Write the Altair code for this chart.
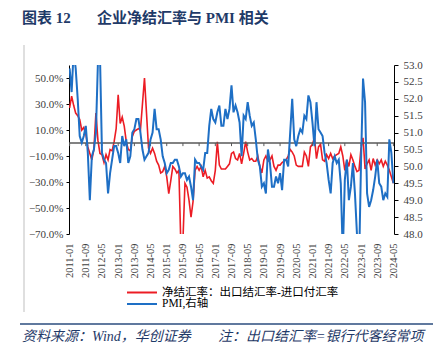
import altair as alt
import pandas as pd

months = [f"{y}-{m:02d}" for y in range(2011, 2025) for m in range(1, 13)][:161]
tick_months = months[::8]

net_rate = [
    27, 36, 29, 23, 21, 18, 10, 12, 7, -3, -8, -13,
    -5, 23, 2, -8, -9, -15, -9, -13, -5, -6, 1, 11,
    37, 15, 20, 13, 1, -5, -6, 5, 9, 10, 11, 10,
    30, 50, 23, -4, -8, -4, -8, -14, -17, -23, -22, -18,
    -26, -39, -29, -18, -20, -23, -21, -80, -75, -31, -34, -44,
    -57, -45, -21, -18, -21, -18, -26, -21, -27, -26, -29, -31,
    -21, 1, -17, -20, -20, -20, -18, -16, -8, -7, -12, -13,
    -8, -16, -8, 1, -7, -13, -12, -14, -14, -10, -18, -23,
    -13, -10, -14, -13, -10, -18, -21, -17, -17, -15, -14, -13,
    -10, -5, -7, -10, -17, -18, -18, -18, -7, -10, -18, -3,
    -1, 4, -12, -3, -1, -13, -14, -9, -12, -8, -12, -10,
    -9, -8, -3, -10, -21, -13, -18, -9, -13, -18, -22, -21,
    -4, 4, -20, -16, -13, -21, -12, -17, -13, -16, -13, -18,
    -14, -17, -21, -26, -31,
]

pmi = [
    52.9, 52.2, 53.4, 52.9, 52.0, 50.9, 50.7, 50.9, 51.2, 50.4, 49.0, 50.3,
    50.5, 51.0, 53.1, 53.3, 50.4, 50.2, 50.1, 49.2, 49.8, 50.2, 50.6, 50.6,
    50.4, 50.1, 50.9, 50.6, 50.8, 50.1, 50.3, 51.0, 51.1, 51.4, 51.4, 51.0,
    50.5, 50.2, 50.3, 50.4, 50.8, 51.0, 51.7, 51.1, 51.1, 50.8, 50.3, 50.1,
    49.8, 49.9, 50.1, 50.1, 50.2, 50.2, 50.0, 49.7, 49.8, 49.8, 49.6, 49.7,
    49.4, 49.0, 50.2, 50.1, 50.1, 50.0, 49.9, 50.4, 50.4, 51.2, 51.7, 51.4,
    51.3, 51.6, 51.8, 51.2, 51.2, 51.7, 51.4, 51.7, 52.4, 51.6, 51.8, 51.6,
    51.3, 50.3, 51.5, 51.4, 51.9, 51.5, 51.2, 51.3, 50.8, 50.2, 50.0, 49.4,
    49.5, 49.2, 50.5, 50.1, 49.4, 49.4, 49.7, 49.5, 49.8, 49.3, 50.2, 50.2,
    50.0, None, 52.0, 50.8, 50.6, 50.9, 51.1, 51.0, 51.5, 51.4, 52.1, 51.9,
    51.3, 50.6, 51.9, 51.1, 51.0, 50.9, 50.4, 50.1, 49.6, 49.2, 50.1, 50.3,
    50.1, 50.2, 49.5, 47.4, 49.6, 50.2, 49.0, 49.4, 50.1, 49.2, 48.0, 47.0,
    50.1, 52.6, 51.9, 49.2, 48.8, 49.0, 49.3, 49.7, 50.2, 49.5, 49.4, 49.0,
    49.2, 49.1, 50.8, 50.4, 49.5,
]

left_ticks = [-70, -50, -30, -10, 10, 30, 50]
right_ticks = [48.0, 48.5, 49.0, 49.5, 50.0, 50.5, 51.0, 51.5, 52.0, 52.5, 53.0]

red_name = "净结汇率：出口结汇率-进口付汇率"
pmi_name = "PMI,右轴"
title_a = "图表 12"
title_b = "企业净结汇率与 PMI 相关"
source_a = "资料来源：Wind，华创证券"
source_b = "注：出口结汇率=银行代客经常项"

RED = "#EC1C24"
BLUE = "#1E6FC5"
NAVY = "#1F3A68"
FONT = "Liberation Serif, Noto Sans CJK SC"

df_red = pd.DataFrame({"month": months, "value": net_rate})
df_pmi = pd.DataFrame({"month": months, "value": pmi}).dropna()
df_ticks = pd.DataFrame({"month": tick_months})
one = pd.DataFrame({"k": [0]})

x_enc = alt.X(
    "month:O",
    scale=alt.Scale(type="point", domain=months, padding=0.3),
    axis=alt.Axis(values=tick_months, labelAngle=-90, domain=False, ticks=False,
                  labelPadding=9, labelFont=FONT, labelFontSize=10.5,
                  labelColor="#404040", grid=False, labelOverlap=False, title=None),
)

left_scale = alt.Scale(domain=[-70, 60], nice=False, zero=False)
left_axis = alt.Axis(values=left_ticks,
                     labelExpr="format(datum.value, '.1f') + '%'",
                     grid=False, domainColor="#000000", tickColor="#000000",
                     tickSize=3, labelPadding=3, labelFont=FONT,
                     labelFontSize=11, labelColor="#404040", title=None,
                     labelOverlap=False, labelBound=False, labelFlush=False)

red_line = alt.Chart(df_red).mark_line(strokeWidth=1.6, clip=True, color=RED).encode(
    x=x_enc,
    y=alt.Y("value:Q", scale=left_scale, axis=left_axis),
)

zero_rule = alt.Chart(one).mark_rule(color="#595959", strokeWidth=1.3).encode(
    y=alt.Y(datum=0, scale=left_scale, axis=left_axis)
)

zero_ticks = alt.Chart(df_ticks).mark_rule(color="#595959", strokeWidth=1).encode(
    x=x_enc,
    y=alt.Y(datum=0, scale=left_scale, axis=left_axis),
    y2=alt.datum(-2.4),
)

left = alt.layer(red_line, zero_rule, zero_ticks)

blue_line = alt.Chart(df_pmi).mark_line(strokeWidth=2, clip=True, color=BLUE).encode(
    x=x_enc,
    y=alt.Y("value:Q", scale=alt.Scale(domain=[48, 53], nice=False, zero=False),
            axis=alt.Axis(orient="right", values=right_ticks, format=".1f",
                          grid=False, domainColor="#000000", tickColor="#000000",
                          tickSize=4, labelPadding=5, labelFont=FONT,
                          labelFontSize=11, labelColor="#404040", title=None,
                          labelOverlap=False)),
)


def label(text, x, y, size, bold=False, italic=False, color=NAVY):
    kw = dict(text=text, align="left", baseline="middle", font=FONT,
              fontSize=size, color=color)
    if bold:
        kw["fontWeight"] = "bold"
    if italic:
        kw["fontStyle"] = "italic"
    return alt.Chart(one).mark_text(**kw).encode(x=alt.value(x), y=alt.value(y))


def key_line(color, y):
    return alt.Chart(one).mark_rule(color=color, strokeWidth=2).encode(
        x=alt.value(58), x2=alt.value(88), y=alt.value(y)
    )


t1 = label(title_a, -47, -47.5, 15, bold=True)
t2 = label(title_b, 28, -47.5, 15, bold=True)
f1 = label(source_a, -47, 272, 14, italic=True)
f2 = label(source_b, 149, 272, 14, italic=True)

k1 = key_line(RED, 227.5)
k2 = key_line(BLUE, 239)
l1 = label(red_name, 93, 227.5, 11.5, color="#000000")
l2 = label(pmi_name, 93, 239, 11.5, color="#000000")

frame_line = alt.Chart(one).mark_rule(color="#BFBFBF", strokeWidth=1).encode(
    x=alt.value(-45), y=alt.value(-20), y2=alt.value(247)
)
foot_line = alt.Chart(one).mark_rule(color="#2B4C7E", strokeWidth=1.5).encode(
    x=alt.value(-49), x2=alt.value(364), y=alt.value(259)
)

chart = alt.layer(
    left, blue_line, t1, t2, f1, f2, k1, k2, l1, l2, frame_line, foot_line
).resolve_scale(
    y="independent"
).properties(
    width=325, height=169,
    padding={"left": 69, "top": 65, "right": 44, "bottom": 117},
    autosize=alt.AutoSizeParams(type="none"),
    background="white",
).configure_view(stroke=None)

chart.save("out.html", embed_options={"renderer": "svg", "actions": False})
